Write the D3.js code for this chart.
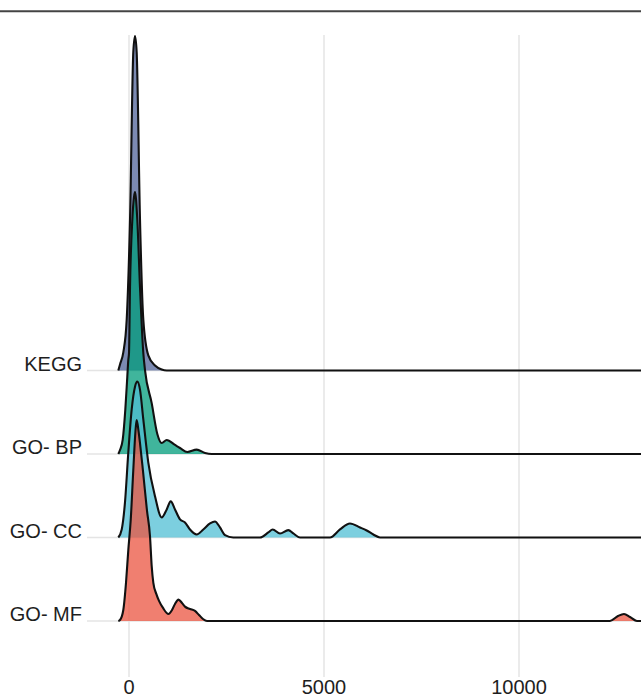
<!DOCTYPE html>
<html>
<head>
<meta charset="utf-8">
<title>Gene set size ridgeline</title>
<script src="https://cdn.jsdelivr.net/npm/d3@7"></script>
<style>
  body { margin: 0; background: #fff; }
  svg { display: block; }
  .lbl { font-family: 'Liberation Sans', Arial, sans-serif; font-size: 20px; fill: #1e1e1e; }
</style>
</head>
<body>
<div id="chart"></div>
<script>
'use strict';

/** the categories, from the top ridge to the bottom ridge */
const categories = ['KEGG', 'GO- BP', 'GO- CC', 'GO- MF'];

/** the x axis tick values */
const xTicks = [0, 5000, 10000];

// density curves
// sizes are gene set sizes, heights are relative (KEGG peak = 100)
const keggSize = [-274, -231, -146, -59, 26, 110, 154, 197, 282, 367, 495, 667, 838, 967, 13500];
const keggHeight = [0, 1.8, 5.4, 15.2, 45.1, 95.1, 100, 95.1, 45.1, 15.2, 4.5, 1.5, 0.3, 0, 0];

const bpSize = [-274, -231, -162, -95, -44, -18, 0, 26, 85, 128, 154, 213, 282, 367, 410, 582, 726, 838, 967, 1179, 1308, 1495, 1736, 1949, 2120, 13500];
const bpHeight = [0, 1.2, 4.2, 13.2, 23.0, 28.1, 30.2, 49.9, 70.0, 76.8, 78.3, 70.0, 49.9, 30.2, 25.1, 15.2, 6.0, 3.3, 4.2, 2.7, 1.8, 0.6, 1.3, 0.3, 0, 0];

const ccSize = [-274, -187, -103, -18, 69, 154, 213, 282, 367, 495, 667, 838, 967, 1069, 1179, 1308, 1436, 1564, 1736, 1905, 2077, 2205, 2333, 2462, 2674, 3359, 3572, 3684, 3872, 4085, 4213, 4385, 5154, 5410, 5666, 5923, 6095, 6265, 6436, 13500];
const ccHeight = [0, 2.4, 10.5, 25.4, 38.3, 45.1, 46.6, 44.2, 35.3, 22.4, 12.3, 6.0, 8.4, 10.8, 8.4, 5.4, 4.5, 2.4, 0.9, 2.4, 4.2, 4.8, 3.0, 0.7, 0, 0, 1.5, 2.4, 1.2, 2.2, 1.2, 0, 0, 2.4, 4.2, 3.0, 2.1, 0.9, 0, 0];

const mfSize = [-274, -231, -146, -77, -18, 44, 110, 172, 197, 244, 282, 359, 462, 538, 582, 624, 700, 770, 872, 1013, 1103, 1179, 1269, 1359, 1436, 1564, 1692, 1795, 1897, 2000, 12333, 12538, 12692, 12846, 13025, 13500];
const mfHeight = [0, 0.3, 3.3, 11.4, 21.2, 30.2, 45.1, 57.7, 60.1, 56.8, 53.2, 44.8, 32.9, 25.4, 16.4, 11.4, 8.1, 6.0, 3.9, 2.1, 3.3, 5.1, 6.4, 5.4, 4.3, 3.6, 3.0, 1.8, 0.6, 0, 0, 1.5, 2.1, 1.2, 0, 0];

/** sizes and heights for each category, in the same order as categories */
const seriesSize = [keggSize, bpSize, ccSize, mfSize];
const seriesHeight = [keggHeight, bpHeight, ccHeight, mfHeight];

/** fill colour of each ridge */
const fillColors = ['#506398', '#009c7b', '#50bfd4', '#eb5440'];

const width = 641;
const height = 698;

/** the svg element */
const svg = d3.select('#chart')
  .append('svg')
    .attr('width', width)
    .attr('height', height);

// x scale, gene set size
const x = d3.scaleLinear()
  .domain([0, 10000])
  .range([129, 519]);

// baseline of every ridge
const y = d3.scalePoint()
  .domain(categories)
  .range([370.5, 621]);

// ridge height scale
const h = d3.scaleLinear()
  .domain([0, 100])
  .range([0, 334.5]);

// thin frame line at the top
svg.append('line')
  .attr('x1', 0).attr('x2', width)
  .attr('y1', 11.3).attr('y2', 11.3)
  .attr('stroke', '#444')
  .attr('stroke-width', 2);

// vertical grid lines
svg.append('g')
  .selectAll('line')
  .data(xTicks)
  .join('line')
    .attr('x1', d => x(d)).attr('x2', d => x(d))
    .attr('y1', 35).attr('y2', 677)
    .attr('stroke', '#e4e4e4')
    .attr('stroke-width', 1.5);

// horizontal grid lines at the ridge baselines
svg.append('g')
  .selectAll('line')
  .data(categories)
  .join('line')
    .attr('x1', 87).attr('x2', width)
    .attr('y1', d => y(d)).attr('y2', d => y(d))
    .attr('stroke', '#e4e4e4')
    .attr('stroke-width', 1.5);

// ridges, top one first so the lower ones are drawn over it
categories.forEach(function (cat, i) {
  const base = y(cat);
  const pts = seriesSize[i].map((s, j) => [s, seriesHeight[i][j]]);

  const area = d3.area()
    .x(d => x(d[0]))
    .y0(base)
    .y1(d => base - h(d[1]))
    .curve(d3.curveMonotoneX);

  const line = d3.line()
    .x(d => x(d[0]))
    .y(d => base - h(d[1]))
    .curve(d3.curveMonotoneX);

  const g = svg.append('g');
  g.append('path')
    .attr('d', area(pts))
    .attr('fill', fillColors[i])
    .attr('fill-opacity', 0.75);
  g.append('path')
    .attr('d', line(pts))
    .attr('fill', 'none')
    .attr('stroke', '#111')
    .attr('stroke-width', 2.1)
    .attr('stroke-linejoin', 'round');
});

// y axis labels, sitting on the baselines
svg.append('g')
  .selectAll('text')
  .data(categories)
  .join('text')
    .attr('class', 'lbl')
    .attr('text-anchor', 'end')
    .attr('x', 82)
    .attr('y', d => y(d))
    .text(d => d);

// x axis labels
svg.append('g')
  .selectAll('text')
  .data(xTicks)
  .join('text')
    .attr('class', 'lbl')
    .attr('text-anchor', 'middle')
    .attr('x', d => x(d))
    .attr('y', 694)
    .text(d => d);
</script>
</body>
</html>
